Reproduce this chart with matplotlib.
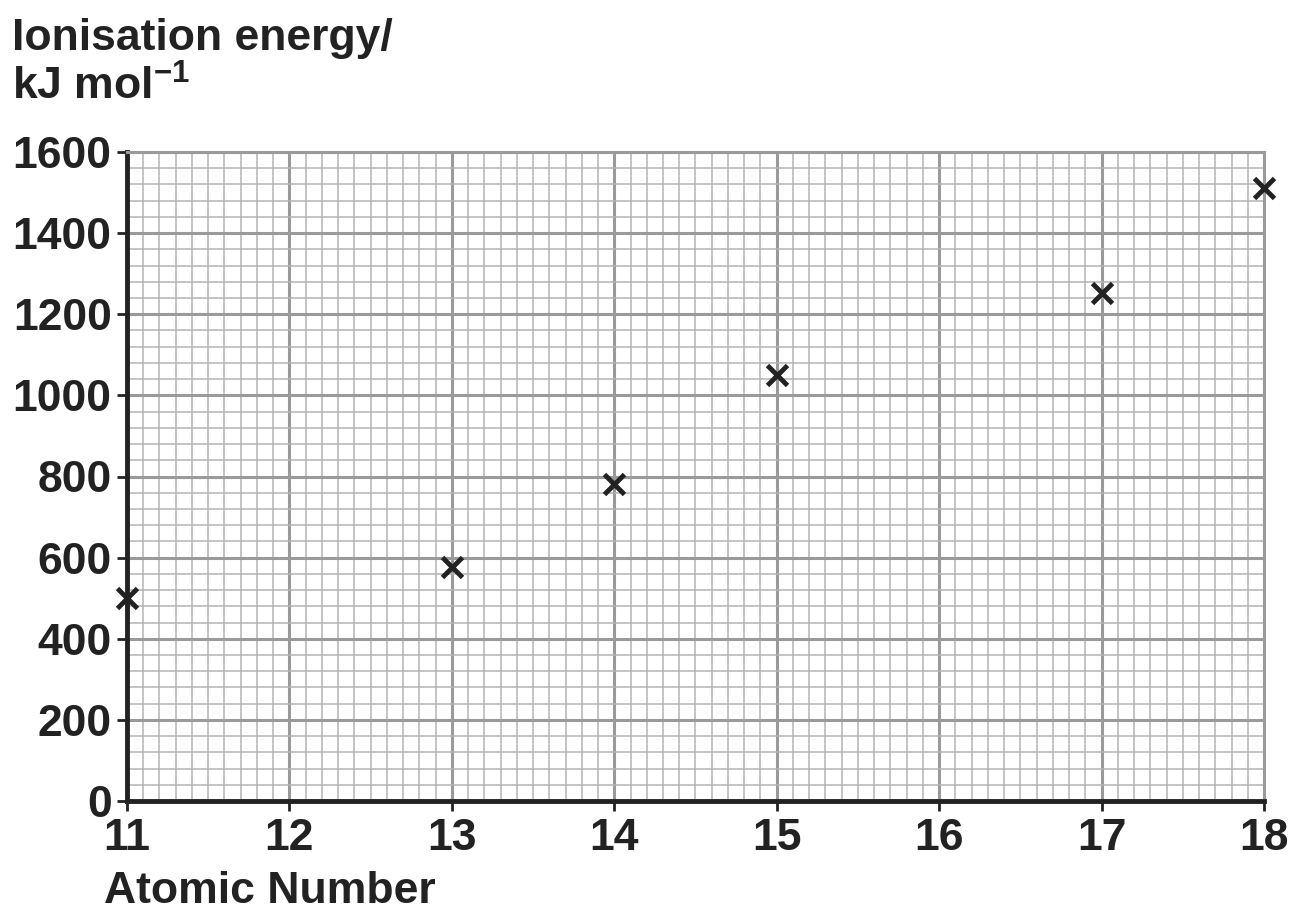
import matplotlib
matplotlib.use("Agg")
import matplotlib.pyplot as plt
from matplotlib.ticker import MultipleLocator

atomic_number = [11, 13, 14, 15, 17, 18]
ionisation_energy = [500, 577, 781, 1050, 1252, 1511]
x_ticks = [11, 12, 13, 14, 15, 16, 17, 18]
y_ticks = [0, 200, 400, 600, 800, 1000, 1200, 1400, 1600]

plt.rcParams['font.family'] = ['Liberation Sans', 'DejaVu Sans']
plt.rcParams['font.weight'] = 'bold'
plt.rcParams['mathtext.fontset'] = 'custom'
plt.rcParams['mathtext.rm'] = 'Liberation Sans:bold'
plt.rcParams['mathtext.bf'] = 'Liberation Sans:bold'
plt.rcParams['mathtext.it'] = 'Liberation Sans:bold'

W, H = 1291, 911
fig = plt.figure(figsize=(W / 100, H / 100), dpi=100)
ax = fig.add_axes([127 / W, 1 - 801 / H, (1264 - 127) / W, (801 - 152) / H])

ax.set_xlim(11, 18)
ax.set_ylim(0, 1600)
ax.xaxis.set_major_locator(MultipleLocator(1))
ax.xaxis.set_minor_locator(MultipleLocator(0.1))
ax.yaxis.set_major_locator(MultipleLocator(200))
ax.yaxis.set_minor_locator(MultipleLocator(40))
ax.set_xticks(x_ticks)
ax.set_yticks(y_ticks)

ax.grid(which='minor', color='#b4b4b4', linewidth=1.1, zorder=0)
ax.grid(which='major', color='#9a9a9a', linewidth=2.2, zorder=1)
ax.set_axisbelow(True)

for s in ['top', 'right']:
    ax.spines[s].set_color('#9a9a9a')
    ax.spines[s].set_linewidth(2.2)
for s in ['left', 'bottom']:
    ax.spines[s].set_color('#222222')
    ax.spines[s].set_linewidth(3.5)

ax.tick_params(which='major', direction='out', length=7, width=2, color='#222222',
               labelsize=32, labelcolor='#222222')
ax.tick_params(axis='x', pad=5)
ax.tick_params(axis='y', pad=4)
ax.tick_params(which='minor', length=0)

ax.plot(atomic_number, ionisation_energy, linestyle='none', marker='x',
        markersize=14, markeredgewidth=3.5, color='#222222', clip_on=False, zorder=5)

fig.text(12 / W, 1 - 50 / H, 'Ionisation energy/', fontsize=32, fontweight='bold',
         color='#222222', va='baseline', ha='left')
fig.text(12 / W, 1 - 100 / H, r'kJ mol$^{-1}$', fontsize=32, fontweight='bold',
         color='#222222', va='baseline', ha='left')
fig.text(104 / W, 1 - 903 / H, 'Atomic Number', fontsize=32, fontweight='bold',
         color='#222222', va='baseline', ha='left')

fig.savefig('out.png', dpi=100)
